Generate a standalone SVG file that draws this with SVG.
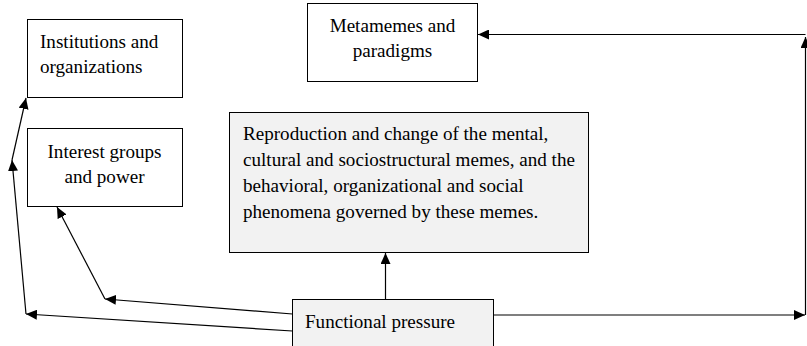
<svg xmlns="http://www.w3.org/2000/svg" width="807" height="346" viewBox="0 0 807 346">
  <style>
    .box { fill: #ffffff; stroke: #000000; stroke-width: 1; }
    .shaded { fill: #f2f2f2; stroke: #000000; stroke-width: 1; }
    .label { font-family: "Liberation Serif", "Times New Roman", serif; font-size: 19.1px; fill: #000000; }
    .mid { text-anchor: middle; }
    .conn { fill: none; stroke: #000000; stroke-width: 1.2; }
  </style>
  <defs>
    <marker id="head" viewBox="0 0 11 10" refX="11" refY="5" markerWidth="11" markerHeight="10" markerUnits="userSpaceOnUse" orient="auto">
      <path d="M0,0 L11,5 L0,10 Z" fill="#000000"/>
    </marker>
  </defs>

  <g id="institutions">
    <rect class="box" x="27.5" y="19.5" width="155" height="78"/>
    <text class="label" x="40" y="48">Institutions and</text>
    <text class="label" x="40" y="73">organizations</text>
  </g>

  <g id="interest-groups">
    <rect class="box" x="27.5" y="128.5" width="155" height="78"/>
    <text class="label mid" x="104.5" y="158">Interest groups</text>
    <text class="label mid" x="104.5" y="183">and power</text>
  </g>

  <g id="metamemes">
    <rect class="box" x="307.5" y="3.5" width="170" height="78"/>
    <text class="label mid" x="392.5" y="32">Metamemes and</text>
    <text class="label mid" x="392.5" y="57">paradigms</text>
  </g>

  <g id="reproduction">
    <rect class="shaded" x="229.5" y="112.5" width="359" height="140"/>
    <text class="label" x="243" y="140">Reproduction and change of the mental,</text>
    <text class="label" x="243" y="166">cultural and sociostructural memes, and the</text>
    <text class="label" x="243" y="192">behavioral, organizational and social</text>
    <text class="label" x="243" y="218">phenomena governed by these memes.</text>
  </g>

  <g id="functional-pressure">
    <rect class="shaded" x="292.5" y="299.5" width="201" height="60"/>
    <text class="label" x="305" y="328">Functional pressure</text>
  </g>

  <g id="connectors">
    <line class="conn" x1="385.5" y1="299.5" x2="385.5" y2="253" marker-end="url(#head)"/>
    <line class="conn" x1="493.5" y1="315" x2="805" y2="315" marker-end="url(#head)"/>
    <line class="conn" x1="805.5" y1="315" x2="805.5" y2="37" marker-end="url(#head)"/>
    <line class="conn" x1="805.5" y1="34.5" x2="478" y2="34.5" marker-end="url(#head)"/>
    <line class="conn" x1="292.5" y1="314" x2="105" y2="299" marker-end="url(#head)"/>
    <line class="conn" x1="105" y1="299" x2="57" y2="207" marker-end="url(#head)"/>
    <line class="conn" x1="292.5" y1="331" x2="26" y2="314" marker-end="url(#head)"/>
    <line class="conn" x1="26" y1="314" x2="12" y2="160" marker-end="url(#head)"/>
    <line class="conn" x1="12" y1="160" x2="26" y2="98" marker-end="url(#head)"/>
  </g>
</svg>
